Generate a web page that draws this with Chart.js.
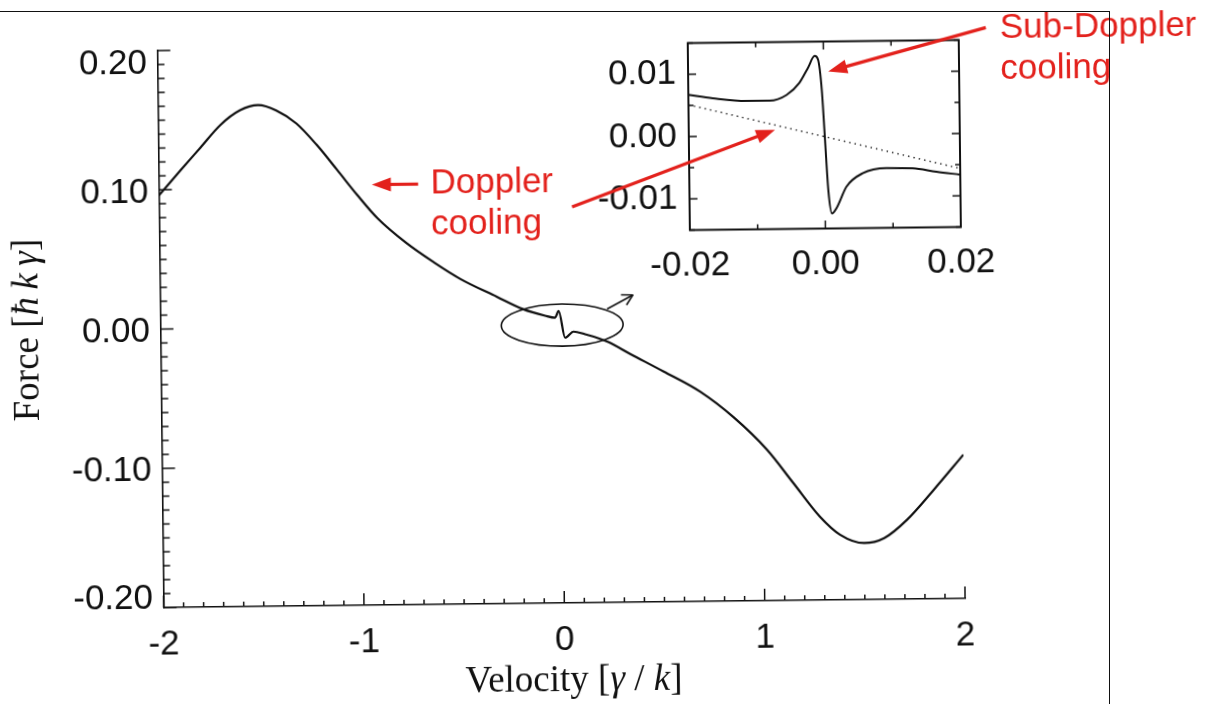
<!DOCTYPE html>
<html>
<head>
<meta charset="utf-8">
<title>Force vs velocity</title>
<script src="https://cdn.jsdelivr.net/npm/chart.js@4.4.1/dist/chart.umd.min.js"></script>
<style>
  html, body { margin: 0; padding: 0; background: #fff; }
  body { width: 1205px; height: 704px; position: relative; overflow: hidden; }
  /* the scanned figure sits slightly tilted on the page */
  #plot { position: absolute; left: 0; top: 0; width: 1205px; height: 704px;
          transform-origin: 564px 330px; transform: rotate(-0.65deg); }
  #plot canvas { position: absolute; left: 0; top: 0; }
  #frame { position: absolute; left: 0; top: 11px; width: 1109px; height: 720px;
           border-top: 1.5px solid #111; border-right: 1.5px solid #111; pointer-events: none; }
</style>
</head>
<body>
<div id="plot">
  <canvas id="inset" width="1205" height="704"></canvas>
  <canvas id="main" width="1205" height="704"></canvas>
</div>
<div id="frame"></div>
<script>
// -----------------------------
// Data
// -----------------------------
const velocity = [-2.00, -1.89, -1.79, -1.69, -1.59, -1.50, -1.41, -1.31, -1.21, -1.11,
  -1.01, -0.91, -0.77, -0.63, -0.50, -0.32, -0.19, -0.08, -0.03, -0.012,
  0.019, 0.061, 0.119, 0.186, 0.234, 0.343, 0.507, 0.691, 0.855, 1.02,
  1.15, 1.28, 1.38, 1.50, 1.60, 1.715, 1.85, 2.00];
const force = [0.096, 0.114, 0.130, 0.146, 0.1565, 0.160, 0.156, 0.1465, 0.131, 0.113,
  0.0946, 0.0777, 0.0600, 0.0455, 0.0335, 0.0205, 0.0114, 0.0065, 0.0050, 0.0098,
  -0.0095, -0.0052, -0.0072, -0.0102, -0.0130, -0.0217, -0.0345, -0.0495, -0.0680, -0.0916,
  -0.1158, -0.140, -0.1532, -0.1594, -0.156, -0.143, -0.1217, -0.0967];

// inset: zoom around v = 0
const insetVelocity = [-0.02, -0.0164, -0.0114, -0.0080, -0.0055, -0.0036, -0.0023, -0.0013, -0.0008, -0.0003,
  0.0001, 0.0005, 0.0010, 0.0017, 0.0032, 0.0056, 0.0091, 0.0130, 0.0165, 0.02];
const insetForce = [0.0067, 0.0061, 0.0056, 0.0056, 0.0065, 0.0084, 0.0108, 0.0127, 0.0121, 0.0073,
  -0.0008, -0.0088, -0.0126, -0.0117, -0.0083, -0.0062, -0.0054, -0.0055, -0.0061, -0.0066];
// Doppler-only force (dotted line in the inset)
const dopplerVelocity = [-0.02, 0.02];
const dopplerForce = [0.0051, -0.0056];

const xTicks = [-2, -1, 0, 1, 2];
const yTicks = [0.2, 0.1, 0, -0.1, -0.2];
const yTickLabels = ["0.20", "0.10", "0.00", "-0.10", "-0.20"];
const insetXTicks = [-0.02, 0, 0.02];
const insetYTicks = [-0.01, 0, 0.01];

// -----------------------------
// Styles
// -----------------------------
const SANS = "'Liberation Sans', Arial, sans-serif";
const SERIF = "'Liberation Serif', 'Times New Roman', serif";
const INK = "#111";
const RED = "#e3211c";

Chart.defaults.font.family = SANS;
Chart.defaults.font.size = 35;
Chart.defaults.color = INK;

const toPoints = (xs, ys) => xs.map((x, i) => ({ x, y: ys[i] }));

// annotation anchors, in main-plot data units
const notes = {
  ellipse: { v: 0.005, f: -0.0004, rv: 0.304, rf: 0.0151 },
  zoomArrow: { from: [0.23, 0.0108], to: [0.36, 0.0207] },
  doppler: { lines: ["Doppler", "cooling"], at: [-0.644, 0.0952] },
  dopplerLeft: { from: [-0.706, 0.102], to: [-0.937, 0.102] },
  dopplerInset: { from: [0.061, 0.0843], to: [1.078, 0.1381] },
  sub: { lines: ["Sub-Doppler", "cooling"], at: [2.206, 0.2024] },
  subInset: { from: [2.136, 0.2098], to: [1.347, 0.1795] },
};

function line(ctx, x0, y0, x1, y1) {
  ctx.beginPath();
  ctx.moveTo(x0, y0);
  ctx.lineTo(x1, y1);
  ctx.stroke();
}

function redArrow(ctx, x0, y0, x1, y1) {
  const a = Math.atan2(y1 - y0, x1 - x0);
  const hl = 19, hw = 7;
  const bx = x1 - hl * Math.cos(a), by = y1 - hl * Math.sin(a);
  ctx.strokeStyle = RED;
  ctx.fillStyle = RED;
  ctx.lineWidth = 3.2;
  line(ctx, x0, y0, bx + 2 * Math.cos(a), by + 2 * Math.sin(a));
  ctx.beginPath();
  ctx.moveTo(x1, y1);
  ctx.lineTo(bx - hw * Math.sin(a), by + hw * Math.cos(a));
  ctx.lineTo(bx + hw * Math.sin(a), by - hw * Math.cos(a));
  ctx.closePath();
  ctx.fill();
}

// text made of roman / italic runs, centred on cx
function drawRuns(ctx, runs, cx, baseY) {
  const fontOf = (r) => `${r.it ? "italic " : ""}37px ${SERIF}`;
  let total = 0;
  runs.forEach((r) => { ctx.font = fontOf(r); total += ctx.measureText(r.t).width; });
  let x = cx - total / 2;
  ctx.textAlign = "left";
  ctx.textBaseline = "alphabetic";
  runs.forEach((r) => {
    ctx.font = fontOf(r);
    ctx.fillText(r.t, x, baseY);
    x += ctx.measureText(r.t).width;
  });
}

// -----------------------------
// Main plot decorations
// -----------------------------
const mainDecor = {
  id: "mainDecor",
  afterDraw(chart) {
    const { ctx, chartArea: a, scales: { x, y } } = chart;
    const px = (v) => x.getPixelForValue(v);
    const py = (f) => y.getPixelForValue(f);
    ctx.save();

    // inward ticks
    ctx.strokeStyle = INK;
    ctx.lineWidth = 1.5;
    for (let i = -20; i <= 20; i++) {
      const yy = py(i / 100);
      line(ctx, a.left, yy, a.left + (i % 10 === 0 ? 13 : 7), yy);
    }
    for (let i = -20; i <= 20; i++) {
      const xx = px(i / 10);
      line(ctx, xx, a.bottom, xx, a.bottom - (i % 10 === 0 ? 12 : 5));
    }

    // y tick labels (end labels kept inside the axis, as in the figure)
    ctx.fillStyle = INK;
    ctx.font = `35px ${SANS}`;
    ctx.textAlign = "right";
    ctx.textBaseline = "alphabetic";
    yTicks.forEach((v, i) => {
      let base = py(v) + 12.5;
      if (i === 0) base = py(v) + 23;
      if (i === yTicks.length - 1) base = py(v) + 1;
      ctx.fillText(yTickLabels[i], a.left - 10.5, base);
    });

    // axis titles
    drawRuns(ctx, [
      { t: "Velocity [" }, { t: "γ", it: true }, { t: " / " }, { t: "k", it: true }, { t: "]" },
    ], 570, 691);
    ctx.save();
    ctx.translate(38, 324);
    ctx.rotate(-Math.PI / 2);
    drawRuns(ctx, [{ t: "Force [" }, { t: "ħ\u2009k\u2009γ", it: true }, { t: "]" }], 0, 0);
    ctx.restore();

    // ellipse around the sub-Doppler feature + arrow to the inset
    const e = notes.ellipse;
    ctx.strokeStyle = INK;
    ctx.lineWidth = 1.6;
    ctx.beginPath();
    ctx.ellipse(px(e.v), py(e.f), Math.abs(px(e.v + e.rv) - px(e.v)),
      Math.abs(py(e.f + e.rf) - py(e.f)), 0, 0, Math.PI * 2);
    ctx.stroke();
    const z = notes.zoomArrow;
    const zx0 = px(z.from[0]), zy0 = py(z.from[1]), zx1 = px(z.to[0]), zy1 = py(z.to[1]);
    line(ctx, zx0, zy0, zx1, zy1);
    const za = Math.atan2(zy1 - zy0, zx1 - zx0);
    [-0.5, 0.5].forEach((d) => {
      line(ctx, zx1, zy1, zx1 + 12 * Math.cos(za + Math.PI + d), zy1 + 12 * Math.sin(za + Math.PI + d));
    });

    // red annotations
    ctx.fillStyle = RED;
    ctx.font = `35px ${SANS}`;
    ctx.textAlign = "left";
    [notes.doppler, notes.sub].forEach((n) => {
      n.lines.forEach((t, i) => ctx.fillText(t, px(n.at[0]), py(n.at[1]) + i * 41));
    });
    [notes.dopplerLeft, notes.dopplerInset, notes.subInset].forEach((r) => {
      redArrow(ctx, px(r.from[0]), py(r.from[1]), px(r.to[0]), py(r.to[1]));
    });

    ctx.restore();
  },
};

// -----------------------------
// Inset decorations: closed box with inward ticks
// -----------------------------
const insetDecor = {
  id: "insetDecor",
  afterDraw(chart) {
    const { ctx, chartArea: a, scales: { x, y } } = chart;
    ctx.save();
    ctx.strokeStyle = INK;
    ctx.lineWidth = 2;
    ctx.strokeRect(a.left, a.top, a.right - a.left, a.bottom - a.top);
    ctx.lineWidth = 1.5;
    for (let i = -3; i <= 3; i++) {
      const yy = y.getPixelForValue(i * 0.005);
      const len = i % 2 === 0 ? 8 : 5;
      line(ctx, a.left, yy, a.left + len, yy);
      line(ctx, a.right, yy, a.right - len, yy);
    }
    for (let i = -2; i <= 2; i++) {
      const xx = x.getPixelForValue(i * 0.01);
      const len = i % 2 === 0 ? 8 : 5;
      line(ctx, xx, a.bottom, xx, a.bottom - len);
      line(ctx, xx, a.top, xx, a.top + len);
    }
    ctx.restore();
  },
};

// -----------------------------
// Charts
// -----------------------------
new Chart(document.getElementById("inset"), {
  type: "scatter",
  data: {
    datasets: [
      {
        data: toPoints(insetVelocity, insetForce),
        showLine: true,
        borderColor: INK,
        borderWidth: 2,
        pointRadius: 0,
        cubicInterpolationMode: "monotone",
      },
      {
        data: toPoints(dopplerVelocity, dopplerForce),
        showLine: true,
        borderColor: "#333",
        borderWidth: 1.5,
        borderDash: [1.5, 4],
        pointRadius: 0,
      },
    ],
  },
  options: {
    responsive: false,
    animation: false,
    devicePixelRatio: 1,
    events: [],
    layout: { padding: { left: 591, right: 243, top: 44.5, bottom: 402.5 } },
    plugins: { legend: { display: false }, tooltip: { enabled: false } },
    scales: {
      x: {
        type: "linear",
        min: -0.02,
        max: 0.02,
        afterBuildTicks: (s) => { s.ticks = insetXTicks.map((v) => ({ value: v })); },
        afterFit: (s) => { s.height = 70; },
        ticks: { padding: 15, maxRotation: 0, autoSkip: false, callback: (v) => v.toFixed(2) },
        grid: { display: false, drawTicks: false },
        border: { display: false },
      },
      y: {
        type: "linear",
        min: -0.015,
        max: 0.015,
        afterBuildTicks: (s) => { s.ticks = insetYTicks.map((v) => ({ value: v })); },
        afterFit: (s) => { s.width = 100; },
        ticks: { padding: 12, autoSkip: false, callback: (v) => v.toFixed(2) },
        grid: { display: false, drawTicks: false },
        border: { display: false },
      },
    },
  },
  plugins: [insetDecor],
});

new Chart(document.getElementById("main"), {
  type: "scatter",
  data: {
    datasets: [
      {
        data: toPoints(velocity, force),
        showLine: true,
        borderColor: INK,
        borderWidth: 2.2,
        pointRadius: 0,
        cubicInterpolationMode: "monotone",
      },
    ],
  },
  options: {
    responsive: false,
    animation: false,
    devicePixelRatio: 1,
    events: [],
    layout: { padding: { left: 0, right: 243, top: 46, bottom: 0 } },
    plugins: { legend: { display: false }, tooltip: { enabled: false } },
    scales: {
      x: {
        type: "linear",
        min: -2,
        max: 2,
        afterBuildTicks: (s) => { s.ticks = xTicks.map((v) => ({ value: v })); },
        afterFit: (s) => { s.height = 101; },
        ticks: { padding: 16, maxRotation: 0, autoSkip: false, callback: (v) => String(v) },
        grid: { display: false, drawTicks: false },
        border: { display: true, color: INK, width: 1.6 },
      },
      y: {
        type: "linear",
        min: -0.2,
        max: 0.2,
        afterFit: (s) => { s.width = 160.5; },
        ticks: { display: false },
        grid: { display: false, drawTicks: false },
        border: { display: true, color: INK, width: 1.6 },
      },
    },
  },
  plugins: [mainDecor],
});
</script>
</body>
</html>
